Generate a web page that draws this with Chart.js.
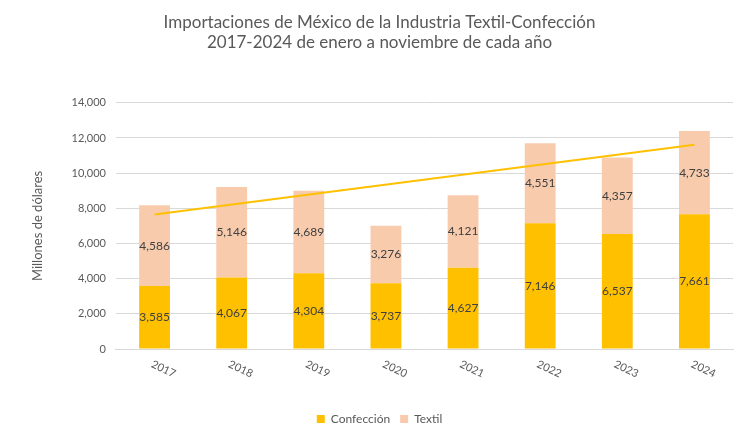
<!DOCTYPE html>
<html lang="es">
<head>
    <meta charset="UTF-8">
    <title>Importaciones de México de la Industria Textil-Confección</title>
    <script src="https://cdn.jsdelivr.net/npm/chart.js"></script>
    <style>
        * {
            margin: 0;
            padding: 0;
            box-sizing: border-box;
        }
        body {
            background: #ffffff;
        }
        .chart-container {
            width: 750px;
            height: 439px;
        }
    </style>
</head>
<body>
    <div class="chart-container">
        <canvas id="myChart"></canvas>
    </div>
    <script>
        // datos
        var years = ['2017', '2018', '2019', '2020', '2021', '2022', '2023', '2024'];
        var confeccion = [3585, 4067, 4304, 3737, 4627, 7146, 6537, 7661];
        var textil = [4586, 5146, 4689, 3276, 4121, 4551, 4357, 4733];
        // línea de tendencia: solo los extremos
        var tendencia = [7650, null, null, null, null, null, null, 11620];

        var gris = '#595959';
        var fuente = 'Lato, "Open Sans", sans-serif';

        // etiquetas de valor en el centro de cada segmento + años inclinados
        var etiquetas = {
            id: 'etiquetas',
            afterDatasetsDraw: function(chart) {
                var ctx = chart.ctx;
                ctx.save();
                ctx.font = '12px ' + fuente;
                ctx.fillStyle = '#404040';
                ctx.textAlign = 'center';
                ctx.textBaseline = 'middle';
                chart.data.datasets.forEach(function(ds, i) {
                    if (ds.type === 'line') return;
                    var meta = chart.getDatasetMeta(i);
                    meta.data.forEach(function(bar, j) {
                        var y = (bar.y + bar.base) / 2;
                        ctx.fillText(ds.data[j].toLocaleString('en-US'), bar.x, y);
                    });
                });

                // años del eje x, girados en sentido horario
                var xs = chart.scales.x;
                ctx.font = '11px ' + fuente;
                ctx.fillStyle = gris;
                chart.data.labels.forEach(function(lab, j) {
                    var x = xs.getPixelForTick(j);
                    ctx.save();
                    ctx.translate(x + 9, chart.chartArea.bottom + 20);
                    ctx.rotate(25 * Math.PI / 180);
                    ctx.fillText(lab, 0, 0);
                    ctx.restore();
                });
                ctx.restore();
            }
        };

        var ctx = document.getElementById('myChart').getContext('2d');
        var myChart = new Chart(ctx, {
            type: 'bar',
            data: {
                labels: years,
                datasets: [
                    {
                        type: 'line',
                        label: 'Tendencia',
                        data: tendencia,
                        borderColor: '#FFC000',
                        borderWidth: 2,
                        pointRadius: 0,
                        spanGaps: true,
                        fill: false,
                        order: 0
                    },
                    {
                        label: 'Confección',
                        data: confeccion,
                        backgroundColor: '#FFC000',
                        order: 1
                    },
                    {
                        label: 'Textil',
                        data: textil,
                        backgroundColor: '#F8CBAD',
                        order: 1
                    }
                ]
            },
            options: {
                responsive: true,
                maintainAspectRatio: false,
                animation: false,
                datasets: {
                    bar: {
                        barPercentage: 0.4,
                        categoryPercentage: 1.0
                    }
                },
                layout: {
                    padding: { left: 26, right: 17, top: 12, bottom: 4 }
                },
                scales: {
                    x: {
                        stacked: true,
                        grid: { display: false },
                        border: { color: '#d9d9d9' },
                        ticks: { display: false },
                        afterFit: function(scale) { scale.height = 54; }
                    },
                    y: {
                        stacked: true,
                        min: 0,
                        max: 14000,
                        ticks: {
                            stepSize: 2000,
                            color: gris,
                            padding: 10,
                            font: { family: fuente, size: 11 },
                            callback: function(v) { return v.toLocaleString('en-US'); }
                        },
                        grid: { color: '#d9d9d9', drawTicks: false },
                        border: { display: false },
                        title: {
                            display: true,
                            text: 'Millones de dólares',
                            color: gris,
                            font: { family: fuente, size: 13 },
                            padding: { bottom: 16 }
                        }
                    }
                },
                plugins: {
                    title: {
                        display: true,
                        text: ['Importaciones de México de la Industria Textil-Confección', '2017-2024 de enero a noviembre de cada año'],
                        color: gris,
                        font: { family: fuente, size: 17, weight: 'normal' },
                        padding: { top: 0, bottom: 50 }
                    },
                    legend: {
                        position: 'bottom',
                        labels: {
                            color: gris,
                            font: { family: fuente, size: 12 },
                            boxWidth: 8,
                            boxHeight: 8,
                            padding: 10,
                            filter: function(item) { return item.text !== 'Tendencia'; }
                        }
                    },
                    tooltip: { enabled: false }
                }
            },
            plugins: [etiquetas]
        });
    </script>
</body>
</html>
